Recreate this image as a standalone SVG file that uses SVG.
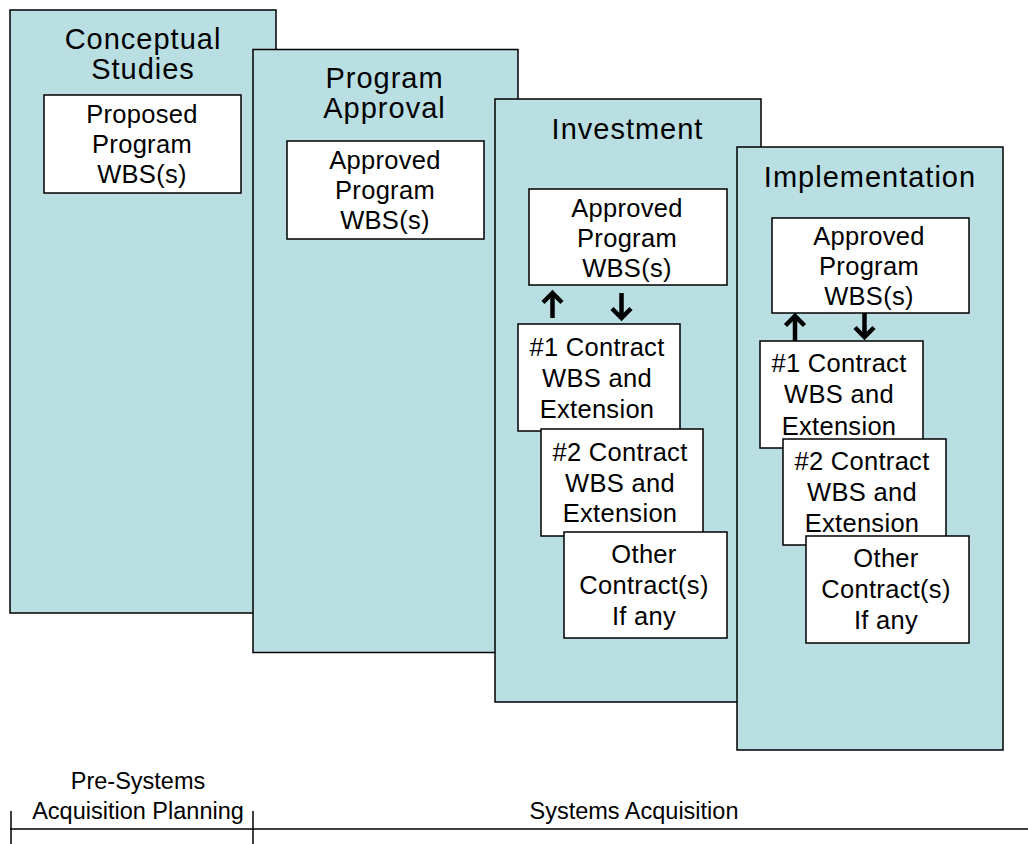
<svg xmlns="http://www.w3.org/2000/svg" width="1028" height="844" viewBox="0 0 1028 844">
<style>
.panel{fill:#BADFE2;stroke:#000;stroke-width:1.5}
.box{fill:#fff;stroke:#000;stroke-width:1.5}
.title{font-family:"Liberation Sans",Arial,sans-serif;font-size:29px;letter-spacing:1px;fill:#000;text-anchor:middle}
.t{font-family:"Liberation Sans",Arial,sans-serif;font-size:25.5px;letter-spacing:0.3px;fill:#000;text-anchor:middle}
.lbl{font-family:"Liberation Sans",Arial,sans-serif;font-size:23.5px;fill:#000;text-anchor:middle}
.arr{fill:none;stroke:#000;stroke-width:4.5;marker-end:url(#chev)}
.axis{fill:none;stroke:#000;stroke-width:1.5}
</style>
<defs>
<marker id="chev" markerUnits="userSpaceOnUse" markerWidth="30" markerHeight="30" viewBox="-15 -15 30 30" refX="0" refY="0" orient="auto" overflow="visible">
<path d="M-9.5,-9.5 L0,0 L-9.5,9.5" fill="none" stroke="#000" stroke-width="4.5"/>
</marker>
</defs>

<g id="panel-conceptual">
<rect class="panel" x="10" y="10" width="266" height="603"/>
<text class="title" x="143" y="49">Conceptual</text>
<text class="title" x="143" y="79">Studies</text>
<g id="box-proposed">
<rect class="box" x="44" y="95" width="197" height="98"/>
<text class="t" x="142" y="123">Proposed</text>
<text class="t" x="142" y="153">Program</text>
<text class="t" x="142" y="183">WBS(s)</text>
</g>
</g>

<g id="panel-approval">
<rect class="panel" x="253" y="49.5" width="265" height="603"/>
<text class="title" x="384.5" y="88">Program</text>
<text class="title" x="384.5" y="118">Approval</text>
<g id="box-approved-1">
<rect class="box" x="287" y="141" width="197" height="98"/>
<text class="t" x="385" y="169">Approved</text>
<text class="t" x="385" y="199">Program</text>
<text class="t" x="385" y="229">WBS(s)</text>
</g>
</g>

<g id="panel-investment">
<rect class="panel" x="495" y="99" width="266" height="603"/>
<text class="title" x="627.5" y="139">Investment</text>
<g id="box-approved-2">
<rect class="box" x="529" y="189" width="198" height="96"/>
<text class="t" x="627" y="217">Approved</text>
<text class="t" x="627" y="247">Program</text>
<text class="t" x="627" y="277">WBS(s)</text>
</g>
<g id="box-c1-inv">
<rect class="box" x="518" y="324" width="162" height="107"/>
<text class="t" x="597" y="356">#1 Contract</text>
<text class="t" x="597" y="387">WBS and</text>
<text class="t" x="597" y="418">Extension</text>
</g>
<g id="box-c2-inv">
<rect class="box" x="541" y="429" width="162" height="107"/>
<text class="t" x="620" y="461">#2 Contract</text>
<text class="t" x="620" y="492">WBS and</text>
<text class="t" x="620" y="522">Extension</text>
</g>
<g id="box-other-inv">
<rect class="box" x="564" y="532" width="163" height="106"/>
<text class="t" x="644" y="563">Other</text>
<text class="t" x="644" y="594">Contract(s)</text>
<text class="t" x="644" y="625">If any</text>
</g>
</g>

<g id="panel-implementation">
<rect class="panel" x="737" y="147" width="266" height="603"/>
<text class="title" x="870" y="187">Implementation</text>
<g id="box-approved-3">
<rect class="box" x="772" y="218" width="197" height="95"/>
<text class="t" x="869" y="245">Approved</text>
<text class="t" x="869" y="275">Program</text>
<text class="t" x="869" y="305">WBS(s)</text>
</g>
<g id="box-c1-imp">
<rect class="box" x="760" y="341" width="163" height="107"/>
<text class="t" x="839" y="372">#1 Contract</text>
<text class="t" x="839" y="403">WBS and</text>
<text class="t" x="839" y="435">Extension</text>
</g>
<g id="box-c2-imp">
<rect class="box" x="783" y="439" width="163" height="106"/>
<text class="t" x="862" y="470">#2 Contract</text>
<text class="t" x="862" y="501">WBS and</text>
<text class="t" x="862" y="532">Extension</text>
</g>
<g id="box-other-imp">
<rect class="box" x="806" y="536" width="163" height="107"/>
<text class="t" x="886" y="567">Other</text>
<text class="t" x="886" y="598">Contract(s)</text>
<text class="t" x="886" y="629">If any</text>
</g>
</g>

<g id="connectors">
<path class="arr" d="M552.5,318 L552.5,293"/>
<path class="arr" d="M621.5,293 L621.5,318"/>
<path class="arr" d="M795,341 L795,316"/>
<path class="arr" d="M864.5,313 L864.5,337"/>
</g>

<g id="timeline">
<line class="axis" x1="10" y1="829" x2="1028" y2="829"/>
<line class="axis" x1="11" y1="811" x2="11" y2="844"/>
<line class="axis" x1="253" y1="811" x2="253" y2="844"/>
<text class="lbl" x="138" y="789">Pre-Systems</text>
<text class="lbl" x="138" y="819">Acquisition Planning</text>
<text class="lbl" x="634" y="819">Systems Acquisition</text>
</g>
</svg>
